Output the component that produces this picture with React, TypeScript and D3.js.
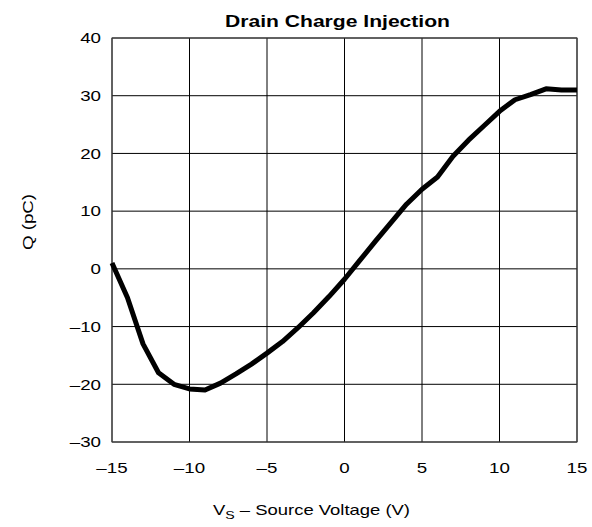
import * as d3 from "d3";

const sourceVoltage = [
  -15, -14, -13, -12, -11, -10, -9, -8, -7, -6, -5, -4, -3, -2, -1, 0, 1, 2, 3,
  4, 5, 6, 7, 8, 9, 10, 11, 12, 13, 14, 15,
];
const charge = [
  1, -5, -13, -18, -20, -20.8, -21, -19.8, -18.2, -16.5, -14.6, -12.6, -10.2,
  -7.6, -4.8, -1.8, 1.5, 4.8, 8, 11.2, 13.8, 15.9, 19.5, 22.3, 24.8, 27.3, 29.3,
  30.2, 31.2, 31, 31,
];
const xTickValues = [-15, -10, -5, 0, 5, 10, 15];
const yTickValues = [-30, -20, -10, 0, 10, 20, 30, 40];

// en dash for negative numbers, like the original figure
const fmt = (v: number) => (v < 0 ? "\u2013" + Math.abs(v) : String(v));

export default function App() {
  const width = 592;
  const height = 527;
  const marginLeft = 112;
  const marginRight = 15;
  const marginTop = 38;
  const marginBottom = 85;
  const innerWidth = width - marginLeft - marginRight;
  const innerHeight = height - marginTop - marginBottom;

  // the source font is wider than Liberation Sans
  const stretch = 1.25;

  const x = d3.scaleLinear().domain([-15, 15]).range([0, innerWidth]);
  const y = d3.scaleLinear().domain([-30, 40]).range([innerHeight, 0]);

  const points = sourceVoltage.map((v, i) => [v, charge[i]] as [number, number]);
  const line = d3
    .line<[number, number]>()
    .x((d) => x(d[0]))
    .y((d) => y(d[1]));

  const font = "'Liberation Sans', Arial, sans-serif";

  return (
    <svg
      width={width}
      height={height}
      style={{ position: "absolute", left: 0, top: 0 }}
      fontFamily={font}
    >
      <rect width={width} height={height} fill="white" />
      <text
        x={225}
        y={27}
        fontSize={16}
        fontWeight="bold"
        textLength={225}
        lengthAdjust="spacingAndGlyphs"
      >
        Drain Charge Injection
      </text>
      <g transform={`translate(${marginLeft}, ${marginTop})`}>
        {/* grid */}
        {xTickValues.map((t) => (
          <line key={"gx" + t} x1={x(t)} x2={x(t)} y1={0} y2={innerHeight} stroke="black" />
        ))}
        {yTickValues.map((t) => (
          <line key={"gy" + t} x1={0} x2={innerWidth} y1={y(t)} y2={y(t)} stroke="black" />
        ))}
        <rect width={innerWidth} height={innerHeight} fill="none" stroke="#444" />

        {/* curve */}
        <path
          d={line(points) ?? ""}
          fill="none"
          stroke="black"
          strokeWidth={5}
          strokeLinejoin="round"
        />

        {/* tick labels */}
        {xTickValues.map((t) => (
          <g key={"tx" + t} transform={`translate(${x(t)}, ${innerHeight + 31}) scale(${stretch}, 1)`}>
            <text textAnchor="middle" fontSize={15}>
              {fmt(t)}
            </text>
          </g>
        ))}
        {yTickValues.map((t) => (
          <g key={"ty" + t} transform={`translate(-11, ${y(t)}) scale(${stretch}, 1)`}>
            <text dy="0.35em" textAnchor="end" fontSize={15}>
              {fmt(t)}
            </text>
          </g>
        ))}
      </g>

      <g transform={`translate(33, 222) rotate(-90) scale(${stretch}, 1)`}>
        <text textAnchor="middle" fontSize={15}>
          Q (pC)
        </text>
      </g>
      <g transform={`translate(213, 515) scale(1.23, 1)`}>
        <text fontSize={15}>
          V<tspan fontSize={11.5} dy={4}>S</tspan>
          <tspan dy={-4}> {"\u2013"} Source Voltage (V)</tspan>
        </text>
      </g>
    </svg>
  );
}
